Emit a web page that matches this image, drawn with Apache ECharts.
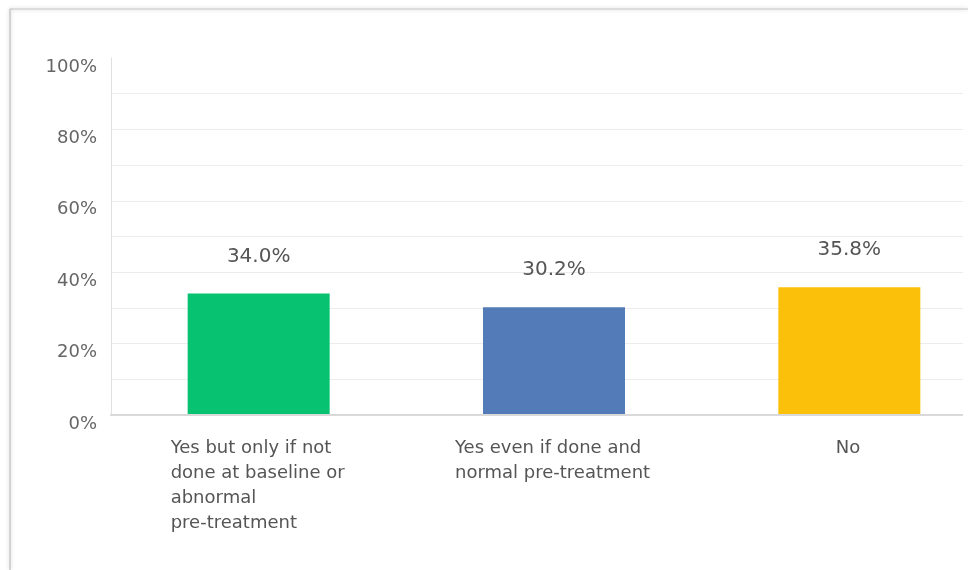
<!DOCTYPE html>
<html>
<head>
<meta charset="utf-8">
<script src="https://cdn.jsdelivr.net/npm/echarts@6/dist/echarts.min.js"></script>
<style>
html,body{margin:0;padding:0;background:#fff;}
#c{width:968px;height:570px;}
</style>
</head>
<body>
<div id="c"></div>
<script>
var categories = [
  "Yes but only if not\ndone at baseline or\nabnormal\npre-treatment",
  "Yes even if done and\nnormal pre-treatment",
  "No"
];
var values = [34.0, 30.2, 35.8];
var barColors = ["#07c271", "#537bb8", "#fac00a"];
var yTicks = [0, 20, 40, 60, 80, 100];

var FONT = "DejaVu Sans";
var XFS = 18;
// measure widest line of each label so the block is centered but lines are left-aligned
var cv = document.createElement('canvas').getContext('2d');
cv.font = XFS + 'px "' + FONT + '"';
var richStyles = {};
categories.forEach(function (c, i) {
  var w = 0;
  c.split('\n').forEach(function (l) { w = Math.max(w, cv.measureText(l).width); });
  richStyles['w' + i] = { width: Math.ceil(w) + 2, align: 'left', fontFamily: FONT, fontSize: XFS, color: '#555', lineHeight: 25 };
});

var chart = echarts.init(document.getElementById('c'));
var splitColors = [];
for (var k = 0; k <= 10; k++) splitColors.push(k === 10 ? 'rgba(0,0,0,0)' : '#ececec');

chart.setOption({
  animation: false,
  backgroundColor: '#fff',
  grid: { left: 111, top: 58, width: 886, height: 357, containLabel: false, outerBoundsMode: 'none' },
  xAxis: {
    type: 'category',
    data: categories,
    axisLine: { show: true, lineStyle: { color: '#d9d9d9', width: 2 } },
    axisTick: { show: false },
    axisLabel: {
      interval: 0,
      margin: 21,
      verticalAlign: 'top',
      hideOverlap: false,
      formatter: function (v, i) {
        return v.split('\n').map(function (l) { return '{w' + i + '|' + l + '}'; }).join('\n');
      },
      rich: richStyles
    },
    z: 3
  },
  yAxis: {
    type: 'value',
    min: 0, max: 100, interval: 10,
    axisLine: { show: true, lineStyle: { color: '#e0e0e0', width: 1 } },
    axisTick: { show: false },
    splitLine: { show: true, lineStyle: { color: splitColors, width: 1 } },
    axisLabel: {
      fontFamily: FONT, fontSize: 18, color: '#666',
      margin: 14,
      verticalAlign: 'top',
      padding: [0, 0, 0, 0],
      formatter: function (v) { return yTicks.indexOf(v) >= 0 ? v + '%' : ''; }
    }
  },
  series: [{
    type: 'bar',
    barWidth: 142,
    data: values.map(function (v, i) { return { value: v, itemStyle: { color: barColors[i] } }; }),
    label: {
      show: true, position: 'top', distance: 27,
      fontFamily: FONT, fontSize: 20, color: '#555',
      formatter: function (p) { return p.value.toFixed(1) + '%'; }
    }
  }],
  graphic: [
    { type: 'rect', shape: { x: 963, y: 40, width: 10, height: 390 }, style: { fill: '#fff' }, z: 100 },
    { type: 'rect', shape: { x: 0, y: 0, width: 968, height: 9 }, style: { fill: '#fff' }, z: 100 },
    { type: 'line', shape: { x1: 10, y1: 9, x2: 968, y2: 9 }, style: { stroke: '#d4d4d4', lineWidth: 1.5, shadowBlur: 4, shadowColor: 'rgba(0,0,0,0.18)' }, z: 101 },
    { type: 'line', shape: { x1: 10, y1: 9, x2: 10, y2: 570 }, style: { stroke: '#c8c8c8', lineWidth: 1.5, shadowBlur: 4, shadowColor: 'rgba(0,0,0,0.2)' }, z: 101 }
  ]
});
</script>
</body>
</html>
